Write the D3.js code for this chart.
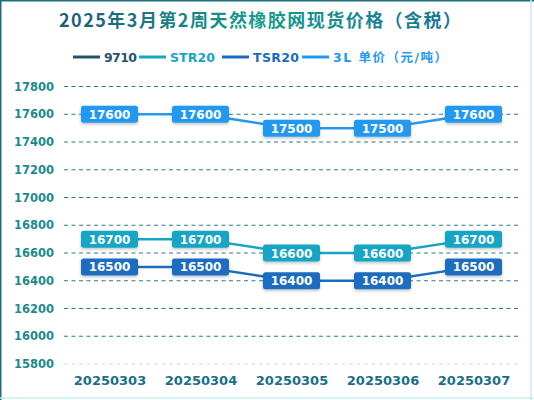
<!DOCTYPE html>
<html>
<head>
<meta charset="utf-8">
<script src="https://cdn.jsdelivr.net/npm/d3@7"></script>
<style>
  html, body { margin: 0; padding: 0; background: #fff; }
  #main { width: 534px; height: 400px; }
</style>
</head>
<body>
<div id="main"></div>
<script>
const dates = ["20250303", "20250304", "20250305", "20250306", "20250307"];
const series = ["9710", "STR20", "TSR20", "3L 单价（元/吨）"];
const v9710 = [];
const vSTR20 = [16700, 16700, 16600, 16600, 16700];
const vTSR20 = [16500, 16500, 16400, 16400, 16500];
const v3L = [17600, 17600, 17500, 17500, 17600];
const yTicks = [15800, 16000, 16200, 16400, 16600, 16800, 17000, 17200, 17400, 17600, 17800];

const colors = ["#1f5566", "#16a5c4", "#1a6cbf", "#2399f0"];
const values = [v9710, vSTR20, vTSR20, v3L];

const width = 534, height = 400;
const svg = d3.select("#main").append("svg")
  .attr("width", width)
  .attr("height", height);

const defs = svg.append("defs");

let tg = defs.append("linearGradient").attr("id", "titleGrad");
tg.append("stop").attr("offset", "0%").attr("stop-color", "#1c5c78");
tg.append("stop").attr("offset", "50%").attr("stop-color", "#159c8c");
tg.append("stop").attr("offset", "100%").attr("stop-color", "#1a7396");

let sh = defs.append("filter").attr("id", "shadow")
  .attr("x", "-20%").attr("y", "-30%").attr("width", "140%").attr("height", "170%");
sh.append("feDropShadow")
  .attr("dx", 0).attr("dy", 1.5).attr("stdDeviation", 1.5)
  .attr("flood-color", "#000").attr("flood-opacity", 0.25);

// frame
svg.append("rect")
  .attr("width", width).attr("height", height)
  .attr("fill", "#fff");
svg.append("line").attr("x1", 0).attr("x2", width).attr("y1", 0.75).attr("y2", 0.75)
  .attr("stroke", "#1c6f80").attr("stroke-width", 1.5);
svg.append("line").attr("x1", 0.75).attr("x2", 0.75).attr("y1", 0).attr("y2", height)
  .attr("stroke", "#1c6f80").attr("stroke-width", 1.5);
svg.append("line").attr("x1", width - 3).attr("x2", width - 3).attr("y1", 0).attr("y2", height)
  .attr("stroke", "#c6eef3").attr("stroke-width", 1.5);
svg.append("line").attr("x1", 0).attr("x2", width).attr("y1", height - 2).attr("y2", height - 2)
  .attr("stroke", "#c6eef3").attr("stroke-width", 1.5);

// title
svg.append("text")
  .attr("x", 260)
  .attr("y", 27)
  .attr("text-anchor", "middle")
  .attr("font-family", "'Noto Sans CJK SC', 'DejaVu Sans', sans-serif")
  .attr("font-weight", "bold")
  .attr("font-size", 18)
  .attr("fill", "url(#titleGrad)")
  .attr("textLength", 402)
  .text("2025年3月第2周天然橡胶网现货价格（含税）");

// legend
const legendX = [73, 139, 222, 302];
const legendW = [33, 45, 46, 114];
const leg = svg.append("g").selectAll("g")
  .data(series)
  .enter()
  .append("g")
  .attr("transform", (d, i) => `translate(${legendX[i]}, 57)`);
leg.append("line")
  .attr("x1", 0).attr("x2", 27)
  .attr("stroke", (d, i) => colors[i])
  .attr("stroke-width", 3);
leg.append("text")
  .attr("x", 31)
  .attr("y", 5)
  .attr("font-family", "'DejaVu Sans', 'Noto Sans CJK SC', sans-serif")
  .attr("font-weight", "bold")
  .attr("font-size", 12.5)
  .attr("fill", (d, i) => colors[i])
  .attr("textLength", (d, i) => legendW[i])
  .attr("lengthAdjust", "spacing")
  .text(d => d);

// scales
const x = d3.scalePoint().domain(dates).range([64, 519]).padding(0.5);
const y = d3.scaleLinear().domain([15800, 17800]).range([364, 86.5]);

// grid
svg.append("g").selectAll("line")
  .data(yTicks)
  .enter()
  .append("line")
  .attr("x1", 64).attr("x2", 520)
  .attr("y1", d => y(d)).attr("y2", d => y(d))
  .attr("stroke", d => d === 15800 ? "#d6d6d6" : "#2a7b84")
  .attr("stroke-width", 1)
  .attr("stroke-dasharray", "4,3.5");

// y axis
const yAxis = svg.append("g")
  .attr("transform", "translate(54, 0)")
  .call(d3.axisLeft(y).tickValues(yTicks).tickSize(0).tickPadding(0).tickFormat(d3.format("d")));
yAxis.select(".domain").remove();
yAxis.selectAll("text")
  .attr("font-family", "'DejaVu Sans', sans-serif")
  .attr("font-weight", "bold")
  .attr("font-size", 11.5)
  .attr("fill", "#1b8a8c");

// x axis
const xAxis = svg.append("g")
  .attr("transform", "translate(0, 376)")
  .call(d3.axisBottom(x).tickSize(0).tickPadding(0));
xAxis.select(".domain").remove();
xAxis.selectAll("text")
  .attr("font-family", "'DejaVu Sans', sans-serif")
  .attr("font-weight", "bold")
  .attr("font-size", 13)
  .attr("fill", "#1a7088");

// lines
const lineGen = d3.line()
  .x((d, i) => x(dates[i]))
  .y(d => y(d));

const plot = svg.append("g");
values.forEach((vals, s) => {
  if (!vals.length) return;
  plot.append("path")
    .datum(vals)
    .attr("d", lineGen)
    .attr("fill", "none")
    .attr("stroke", colors[s])
    .attr("stroke-width", 2.5);
});

// value boxes
values.forEach((vals, s) => {
  const g = plot.append("g").selectAll("g")
    .data(vals)
    .enter()
    .append("g")
    .attr("transform", (d, i) => `translate(${x(dates[i])}, ${y(d)})`);
  g.append("rect")
    .attr("x", -28.5).attr("y", -8.5)
    .attr("width", 57).attr("height", 17)
    .attr("rx", 2.5)
    .attr("fill", colors[s])
    .attr("filter", "url(#shadow)");
  g.append("text")
    .attr("text-anchor", "middle")
    .attr("y", 4.5)
    .attr("font-family", "'DejaVu Sans', sans-serif")
    .attr("font-weight", "bold")
    .attr("font-size", 12)
    .attr("fill", "#fff")
    .text(d => d);
});
</script>
</body>
</html>
